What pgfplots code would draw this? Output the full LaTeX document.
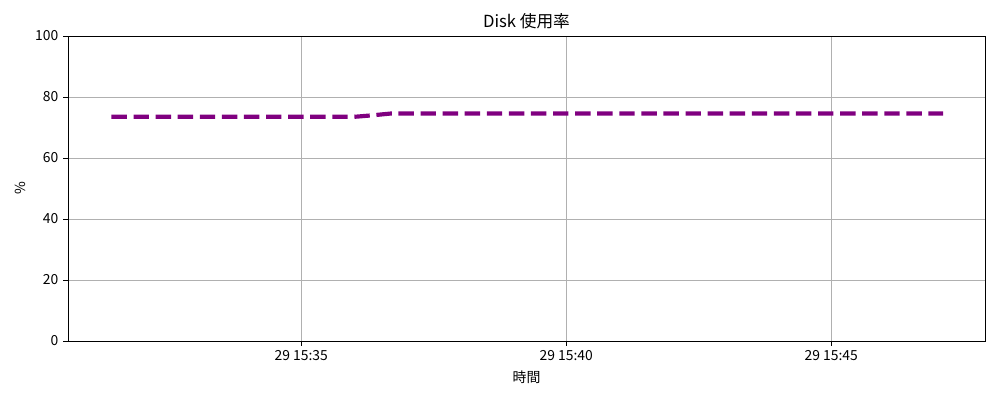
\documentclass[border=0pt]{standalone}
\usepackage{fontspec}
\setmainfont{Noto Sans CJK JP}
\usepackage{pgfplots}
\pgfplotsset{compat=1.18}

\definecolor{gridgray}{HTML}{B0B0B0}
\definecolor{linepurple}{HTML}{800080}

\begin{document}
\begin{tikzpicture}
\begin{axis}[
  scale only axis,
  width=660.2pt, height=219.6pt,
  xmin=0.60, xmax=17.90,
  ymin=0, ymax=100,
  xtick={5,10,15},
  xticklabels={29 15:35,29 15:40,29 15:45},
  ytick={0,20,40,60,80,100},
  grid=major,
  major grid style={gridgray, line width=0.6pt},
  axis line style={black, line width=0.7pt},
  tick style={black, line width=0.7pt},
  tick align=outside,
  major tick length=3.5pt,
  xtick pos=bottom, ytick pos=left,
  tick label style={font=\fontsize{10}{12}\selectfont},
  /pgf/number format/assume math mode=true,
  title={Disk 使用率},
  title style={font=\fontsize{12}{14}\selectfont, yshift=-4.5pt},
  xlabel={時間},
  ylabel={\%},
  label style={font=\fontsize{10}{12}\selectfont},
]
\addplot[linepurple, line width=3pt, dash pattern=on 11.1pt off 4.8pt, line join=round] coordinates {
(1.42,73.5) (2.5,73.5) (3.5,73.5) (4.5,73.5) (5.5,73.5) (6.0,73.5)
(6.35,74.0) (6.7,74.6) (8,74.6) (10,74.6) (12,74.6) (14,74.6) (16,74.6) (17.11,74.6)
};
\end{axis}
\pgfresetboundingbox
\path ([xshift=-48.96pt,yshift=-42.48pt]current axis.south west) rectangle ([xshift=10.8pt,yshift=25.92pt]current axis.north east);
\end{tikzpicture}
\end{document}
